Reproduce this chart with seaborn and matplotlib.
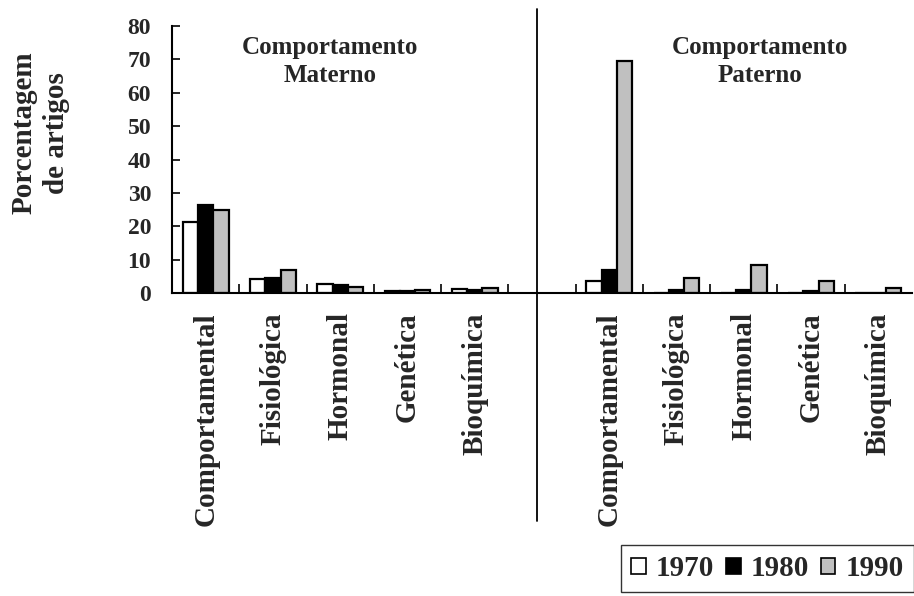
import matplotlib
matplotlib.use("Agg")
import matplotlib.pyplot as plt
import matplotlib.transforms as mtransforms
from matplotlib.patches import Patch
import seaborn as sns
import pandas as pd

categories = ["Comportamental", "Fisiológica", "Hormonal", "Genética", "Bioquímica"]
groups = ["Materno", "Paterno"]
years = ["1970", "1980", "1990"]

materno_1970 = [21.3, 4.3, 2.6, 0.6, 1.1]
materno_1980 = [26.4, 4.5, 2.3, 0.5, 0.8]
materno_1990 = [24.9, 6.8, 1.8, 0.9, 1.4]

paterno_1970 = [3.7, 0.0, 0.0, 0.0, 0.0]
paterno_1980 = [6.9, 0.9, 0.9, 0.6, 0.0]
paterno_1990 = [69.4, 4.4, 8.5, 3.7, 1.4]

yticks = [0, 10, 20, 30, 40, 50, 60, 70, 80]
colors = ["#FFFFFF", "#000000", "#C0C0C0"]

rows = []
series = {
    "Materno": [materno_1970, materno_1980, materno_1990],
    "Paterno": [paterno_1970, paterno_1980, paterno_1990],
}
for g in groups:
    for yi, yr in enumerate(years):
        for ci, c in enumerate(categories):
            rows.append({"key": f"{g}|{c}", "year": yr, "value": series[g][yi][ci]})
df = pd.DataFrame(rows)

order = [f"Materno|{c}" for c in categories] + ["gap"] + [f"Paterno|{c}" for c in categories]

sns.set_style("white")
plt.rcParams["font.family"] = ["Liberation Serif", "DejaVu Serif"]
plt.rcParams["font.weight"] = "bold"

fig = plt.figure(figsize=(9.14, 5.96), dpi=100)
W, H = 914, 596
ax = fig.add_axes([172 / W, 1 - 293 / H, (912 - 172) / W, (293 - 26) / H])

sns.barplot(data=df, x="key", y="value", hue="year", order=order, hue_order=years,
            palette=colors, width=0.68, edgecolor="black", linewidth=1.6,
            legend=False, ax=ax)

ax.set_xlim(-0.5, len(order) - 0.5)
ax.set_ylim(0, 80)
ax.set_yticks(yticks)
ax.set_yticklabels([str(t) for t in yticks], fontsize=17, fontweight="bold")
ax.set_xlabel("")
ax.set_ylabel("")

labels = categories + [""] + categories
ax.set_xticks(range(len(order)))
ax.set_xticklabels(labels, rotation=90, fontsize=21, fontweight="bold", va="top", ha="center")
ax.tick_params(axis="x", which="major", length=0, pad=14)
ax.set_xticks([0.5, 1.5, 2.5, 3.5, 4.5, 5.5, 6.5, 7.5, 8.5, 9.5], minor=True)
ax.tick_params(axis="x", which="minor", direction="in", length=6.5, width=1.4, bottom=True)
ax.tick_params(axis="y", direction="in", length=6, width=1.4, pad=15, left=True)

for s in ["top", "right"]:
    ax.spines[s].set_visible(False)
for s in ["left", "bottom"]:
    ax.spines[s].set_linewidth(1.5)
    ax.spines[s].set_color("black")

# divider line between the two groups
trans = mtransforms.blended_transform_factory(ax.transData, fig.transFigure)
ax.plot([4.93, 4.93], [1 - 9 / H, 1 - 521 / H], color="black", lw=1.3,
        transform=trans, clip_on=False)

fig.text(330 / W, 1 - 36 / H, "Comportamento\nMaterno", ha="center", va="top",
         fontsize=18, fontweight="bold", linespacing=1.3)
fig.text(760 / W, 1 - 36 / H, "Comportamento\nPaterno", ha="center", va="top",
         fontsize=18, fontweight="bold", linespacing=1.3)

fig.text(40 / W, 1 - 133 / H, "Porcentagem\nde artigos", rotation=90, ha="center",
         va="center", multialignment="center", fontsize=21, fontweight="bold",
         linespacing=1.25)

handles = [Patch(facecolor=c, edgecolor="black", linewidth=1.2) for c in colors]
leg = fig.legend(handles, years, loc="lower right", bbox_to_anchor=(1.0, 0.006),
                 ncol=3, frameon=True, fancybox=False,
                 handlelength=0.5, handleheight=0.5, handletextpad=0.35,
                 columnspacing=0.4, borderpad=0.35, borderaxespad=0.0,
                 prop={"weight": "bold", "size": 21})
leg.get_frame().set_edgecolor("black")
leg.get_frame().set_linewidth(1.0)

fig.savefig("out.png", dpi=100)
